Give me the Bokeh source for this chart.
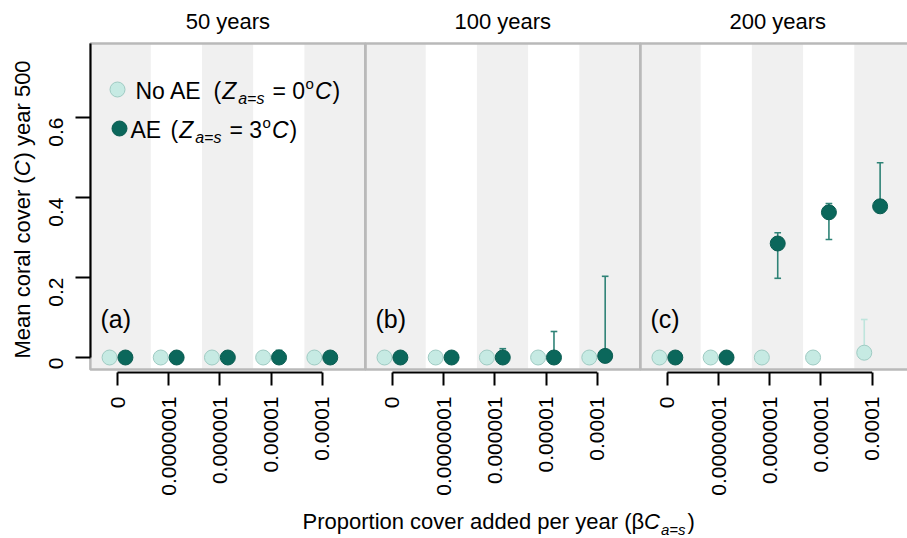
import numpy as np
from bokeh.plotting import figure
from bokeh.models import Label, FixedTicker, Range1d
from bokeh.embed import file_html
from bokeh.resources import INLINE

# ---------------- data ----------------
panels = ["50 years", "100 years", "200 years"]
panel_tags = ["(a)", "(b)", "(c)"]
rates = ["0", "0.0000001", "0.000001", "0.00001", "0.0001"]

noae_mean = [[0, 0, 0, 0, 0], [0, 0, 0, 0, 0], [0, 0, 0, 0, 0.012]]
noae_lo = [[0, 0, 0, 0, 0], [0, 0, 0, 0, 0], [0, 0, 0, 0, 0.012]]
noae_hi = [[0, 0, 0, 0, 0], [0, 0, 0, 0, 0], [0, 0, 0, 0, 0.095]]

ae_mean = [[0, 0, 0, 0, 0], [0, 0, 0, 0, 0.004], [0, 0, 0.285, 0.363, 0.378]]
ae_lo = [[0, 0, 0, 0, 0], [0, 0, 0, 0, 0.004], [0, 0, 0.198, 0.295, 0.378]]
ae_hi = [[0, 0, 0, 0.018, 0], [0, 0, 0.022, 0.065, 0.203], [0, 0, 0.312, 0.385, 0.487]]

yticks = [0, 0.2, 0.4, 0.6]
ytick_labels = ["0", "0.2", "0.4", "0.6"]

# ---------------- style / layout ----------------
FONT = "Liberation Sans"
LIGHT, LIGHT_LINE, LIGHT_BAR = "#c6eae3", "#9fcbc3", "#bfe5dd"
DARK, DARK_LINE, DARK_BAR = "#0b675b", "#0a5c51", "#2f8377"
STRIPE = "#f0f0f0"
BORDER = "#b9b9b9"

CW, CH = 907, 538             # canvas (= frame) size
SX, SY = 51.2, 400.0          # px per data unit
TICK1_PX, ZERO_PX = 117, 357  # where category 1 / value 0 sit on the canvas
X0 = 0.47                     # panel left relative to first category
W = 5.37                      # panel width in category units
DODGE = 0.155
PAN_BOT, PAN_TOP = -0.03, 0.785
MID = 0.35                    # alphabetic baseline -> middle, in em

def px_x(x):
    return 1 + (x - TICK1_PX) / SX

def px_y(y):
    return (ZERO_PX - y) / SY

p = figure(width=CW, height=CH, output_backend="svg", toolbar_location=None,
           x_range=Range1d(px_x(0), px_x(CW)), y_range=Range1d(px_y(CH), px_y(0)),
           min_border_left=0, min_border_right=0, min_border_top=0, min_border_bottom=0)
p.outline_line_color = None
p.xgrid.visible = False
p.ygrid.visible = False
p.background_fill_color = "white"
p.border_fill_color = "white"

npan = len(panels)
ncat = len(rates)

# stripes
sl, sr = [], []
for k in range(npan):
    off = k * W
    edges = [off + X0] + [off + i + 0.65 for i in range(1, ncat)] + [off + W + X0]
    for j in range(0, len(edges) - 1, 2):
        sl.append(edges[j]); sr.append(edges[j + 1])
p.quad(left=sl, right=sr, bottom=PAN_BOT, top=PAN_TOP, fill_color=STRIPE, line_color=None)

# panel borders
p.quad(left=[k * W + X0 for k in range(npan)], right=[(k + 1) * W + X0 for k in range(npan)],
       bottom=PAN_BOT, top=PAN_TOP, fill_color=None, line_color=BORDER, line_width=2.5)

# x axis lines per panel
XAX_Y = px_y(372)
p.segment(x0=[k * W + 1 for k in range(npan)], x1=[k * W + ncat for k in range(npan)],
          y0=XAX_Y, y1=XAX_Y, line_color="black", line_width=2)

def series(mean, lo, hi, shift):
    xs, ys, bx, blo, bhi, cx, cy = [], [], [], [], [], [], []
    for k in range(npan):
        for i in range(ncat):
            x = k * W + i + 1 + shift
            xs.append(x); ys.append(mean[k][i])
            if hi[k][i] > lo[k][i]:
                bx.append(x); blo.append(lo[k][i]); bhi.append(hi[k][i])
                if hi[k][i] > mean[k][i]:
                    cx.append(x); cy.append(hi[k][i])
                if lo[k][i] < mean[k][i]:
                    cx.append(x); cy.append(lo[k][i])
    return xs, ys, bx, blo, bhi, cx, cy

CAP = 0.065
for mean, lo, hi, shift, fill, line, bar in [
        (noae_mean, noae_lo, noae_hi, -DODGE, LIGHT, LIGHT_LINE, LIGHT_BAR),
        (ae_mean, ae_lo, ae_hi, DODGE, DARK, DARK_LINE, DARK_BAR)]:
    xs, ys, bx, blo, bhi, cx, cy = series(mean, lo, hi, shift)
    p.segment(x0=bx, x1=bx, y0=blo, y1=bhi, line_color=bar, line_width=1.6)
    p.segment(x0=[c - CAP for c in cx], x1=[c + CAP for c in cx], y0=cy, y1=cy,
              line_color=bar, line_width=1.6)
    p.scatter(x=xs, y=ys, size=15, fill_color=fill, line_color=line, line_width=1)

# axes
xt = [k * W + i + 1 for k in range(npan) for i in range(ncat)]
p.xaxis.fixed_location = XAX_Y
p.xaxis.ticker = FixedTicker(ticks=xt)
p.xaxis.major_label_overrides = {t: rates[n % ncat] for n, t in enumerate(xt)}
p.xaxis.axis_line_color = None
p.xaxis.major_tick_out = 13
p.xaxis.major_tick_in = 0
p.xaxis.major_tick_line_width = 2
p.xaxis.minor_tick_line_color = None
p.xaxis.major_label_orientation = np.pi / 2
p.xaxis.major_label_standoff = 11
p.xaxis.major_label_text_font = FONT
p.xaxis.major_label_text_font_size = "21px"
p.xaxis.major_label_text_color = "black"

p.yaxis.fixed_location = X0
p.yaxis.ticker = FixedTicker(ticks=yticks)
p.yaxis.major_label_overrides = {t: l for t, l in zip(yticks, ytick_labels)}
p.yaxis.bounds = (0, PAN_TOP)
p.yaxis.axis_line_width = 2
p.yaxis.major_tick_out = 15
p.yaxis.major_tick_in = 0
p.yaxis.major_tick_line_width = 2
p.yaxis.minor_tick_line_color = None
p.yaxis.major_label_orientation = np.pi / 2
p.yaxis.major_label_standoff = 19
p.yaxis.major_label_text_font = FONT
p.yaxis.major_label_text_font_size = "21px"
p.yaxis.major_label_text_color = "black"

# ---------------- text helpers ----------------
AW = {' ': 278, '(': 333, ')': 333, 'N': 722, 'o': 556, 'A': 667, 'E': 667, 'Z': 611,
      'a': 556, '=': 584, 's': 500, '0': 556, '3': 556, 'C': 722, 'P': 667, 'r': 333,
      'p': 556, 't': 278, 'i': 222, 'n': 556, 'c': 500, 'v': 500, 'e': 556, 'd': 556,
      'y': 500, 'β': 575, 'M': 833, 'l': 222, '5': 556, '1': 556, '.': 278}

def tw(s, size):
    return sum(AW.get(ch, 556) for ch in s) * size / 1000.0

def label(x, y, text, size, italic=False, align="left", angle=0.0):
    p.add_layout(Label(x=x, y=y, text=text, text_font=FONT, text_font_size=f"{size}px",
                       text_font_style="italic" if italic else "normal", angle=angle,
                       text_color="black", text_baseline="middle", text_align=align))

def rich(bx_px, by_px, pieces, vertical=False):
    """pieces laid out along a common alphabetic baseline (bx_px, by_px)."""
    cur = 0.0
    for text, size, italic, dy, gap in pieces:
        cur += gap
        lift = dy + MID * size
        if vertical:
            label(px_x(bx_px - lift), px_y(by_px - cur), text, size, italic, angle=np.pi / 2)
        else:
            label(px_x(bx_px + cur), px_y(by_px - lift), text, size, italic)
        cur += tw(text, size)

# panel headers and tags
for k in range(npan):
    label(k * W + X0 + W / 2, px_y(29 - MID * 22), panels[k], 22, align="center")
    label(k * W + 1 - 17 / SX, px_y(327 - MID * 25), panel_tags[k], 25)

# legend
p.scatter(x=[px_x(117)], y=[px_y(89)], size=15, fill_color=LIGHT, line_color=LIGHT_LINE)
p.scatter(x=[px_x(119)], y=[px_y(128)], size=15, fill_color=DARK, line_color=DARK_LINE)

def leg_row(lead, lead_px, paren_px, t, base):
    rich(lead_px, base, [(lead, 23, False, 0, 0)])
    rich(paren_px, base, [("(", 23, False, 0, 0), ("Z", 23, True, 0, 1),
                          ("a=s", 16, True, -5, 2), ("= " + t, 23, False, 0, 8),
                          ("o", 15, False, 11, 0.5), ("C", 23, True, 0, 1),
                          (")", 23, False, 0, 1)])

leg_row("No AE", 135, 213, "0", 99)
leg_row("AE", 130, 170, "3", 138)

# axis titles
rich(302, 529, [("Proportion cover added per year (β", 22, False, 0, 0), ("C", 22, True, 0, 0),
                ("a=s", 15, True, -5, 1), (")", 22, False, 0, 2)])
rich(30, 358, [("Mean coral cover (", 22, False, 0, 0), ("C", 22, True, 0, 0),
               (") year 500", 22, False, 0, 1)], vertical=True)

open("out.html", "w").write(file_html(p, INLINE))
